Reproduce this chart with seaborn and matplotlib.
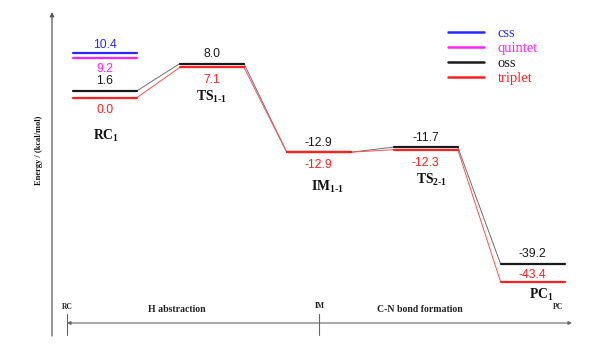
import matplotlib
matplotlib.use("Agg")
import matplotlib.pyplot as plt
import seaborn as sns
import pandas as pd
import numpy as np

# ---------------- data ----------------
states = ["RC", "TS1-1", "IM1-1", "TS2-1", "PC1"]
state_labels = ["RC$_1$", "TS$_{1\\text{-}1}$", "IM$_{1\\text{-}1}$", "TS$_{2\\text{-}1}$", "PC$_1$"]
oss = [1.6, 8.0, -12.9, -11.7, -39.2]
triplet = [0.0, 7.1, -12.9, -12.3, -43.4]
css_rc = [10.4]
quintet_rc = [9.2]
series_names = ["css", "quintet", "oss", "triplet"]
axis_ticks = ["RC", "IM", "PC"]
stage_names = ["H abstraction", "C-N bond formation"]
ylabel = "Energy / (kcal/mol)"

colors = {"css": "#2a2aff", "quintet": "#ff22ff", "oss": "#1a1a1a", "triplet": "#ff2020"}
conn_colors = {"oss": "#707070", "triplet": "#ff5050"}

sns.set_theme(style="white")
plt.rcParams["font.family"] = ["Liberation Serif", "DejaVu Serif"]
plt.rcParams["mathtext.default"] = "regular"

W, H = 603, 354
fig = plt.figure(figsize=(W / 100, H / 100), dpi=100)
ax = fig.add_axes([0, 0, 1, 1])
ax.set_axis_off()

# x: state index, center of state i at pixel 105 + 106.9*i
px0, pstep = 105.0, 106.9
ax.set_xlim(-px0 / pstep, (W - px0) / pstep)
# y: energy, 0 kcal at pixel 97.5, 4.24 px per kcal
ypx0, yscale = 97.5, 4.24
ax.set_ylim((ypx0 - H) / yscale, ypx0 / yscale)
hw = 0.3

# ---------- build level and connector tables ----------
rows = []
seg = 0
series_vals = {"oss": oss, "triplet": triplet, "css": css_rc, "quintet": quintet_rc}
for name in series_names:
    vals = series_vals[name]
    for i, e in enumerate(vals):
        rows.append(dict(x=i - hw, E=e, series=name, seg=seg))
        rows.append(dict(x=i + hw, E=e, series=name, seg=seg))
        seg += 1
levels = pd.DataFrame(rows)

crow = []
for name in ["oss", "triplet"]:
    vals = series_vals[name]
    for i in range(len(vals) - 1):
        crow.append(dict(x=i + hw, E=vals[i], series=name, seg=seg))
        crow.append(dict(x=i + 1 - hw, E=vals[i + 1], series=name, seg=seg))
        seg += 1
conns = pd.DataFrame(crow)

sns.lineplot(data=conns, x="x", y="E", hue="series", units="seg", estimator=None,
             sort=False, palette=conn_colors, linewidth=0.7, legend=False, ax=ax)
sns.lineplot(data=levels, x="x", y="E", hue="series", units="seg", estimator=None,
             sort=False, palette=colors, linewidth=1.6, legend=False, ax=ax)
ax.set_axis_off()

# ---------- value labels ----------
numfont = dict(family=["Liberation Sans", "DejaVu Sans"], fontsize=8.8)

def vlabel(i, e, color, above, gap=3):
    if above:
        ax.annotate(f"{e:.1f}", (i, e), xytext=(0, gap), textcoords="offset points",
                    ha="center", va="bottom", color=color, **numfont)
    else:
        ax.annotate(f"{e:.1f}", (i, e), xytext=(0, -gap - 2.5), textcoords="offset points",
                    ha="center", va="top", color=color, **numfont)

vlabel(0, css_rc[0], colors["css"], True, 1.5)
vlabel(0, quintet_rc[0], colors["quintet"], False, 0.8)
for i in range(len(states)):
    vlabel(i, oss[i], colors["oss"], True, 2.5)
    if i == len(states) - 1:
        vlabel(i, triplet[i], colors["triplet"], True, 0.5)
    else:
        vlabel(i, triplet[i], colors["triplet"], False, 2.5)

# ---------- state names ----------
name_dy = [-28, -21, -25, -22, -10]   # points below triplet level
name_dx = [1, 0, 6, 4, 6]
for i, lab in enumerate(state_labels):
    ax.annotate(lab, (i, triplet[i]), xytext=(name_dx[i], name_dy[i]), textcoords="offset points",
                ha="center", va="center", fontsize=9.8, fontweight="bold", color="#111111")

# ---------- axes decorations (figure-pixel placement) ----------
def fx(p):
    return p / W
def fy(p):
    return 1 - p / H

tr = ax.transAxes
# vertical energy axis
ax.annotate("", xy=(fx(52), fy(12)), xytext=(fx(52), fy(336)), xycoords=tr, textcoords=tr,
            arrowprops=dict(arrowstyle="-|>", color="#555555", lw=0.9, mutation_scale=6,
                            shrinkA=0, shrinkB=0))
ax.text(fx(39), fy(150), ylabel, transform=tr, rotation=90, ha="center", va="center",
        fontsize=6, fontweight="bold", color="#111111")

# reaction coordinate double arrow
ax.annotate("", xy=(fx(572), fy(323)), xytext=(fx(67), fy(323)), xycoords=tr, textcoords=tr,
            arrowprops=dict(arrowstyle="<|-|>", color="#666666", lw=0.8, mutation_scale=5,
                            shrinkA=0, shrinkB=0))
for xp in (67, 319):
    ax.plot([fx(xp), fx(xp)], [fy(314), fy(335)], transform=tr, color="#666666", lw=0.8)
tick_px = [(67, 307), (320, 306), (558, 307)]
for lab, (xp, yp) in zip(axis_ticks, tick_px):
    ax.text(fx(xp), fy(yp), lab, transform=tr, ha="center", va="center",
            fontsize=5.5, fontweight="bold", color="#222222")
for lab, xp in zip(stage_names, (177, 420)):
    ax.text(fx(xp), fy(310), lab, transform=tr, ha="center", va="center",
            fontsize=7, fontweight="bold", color="#222222")

# ---------- legend ----------
from matplotlib.lines import Line2D
handles = [Line2D([0], [0], color=colors[n], lw=1.8) for n in series_names]
leg = ax.legend(handles, series_names, loc="upper left", bbox_to_anchor=(fx(448), fy(27)),
                bbox_transform=tr, frameon=False, fontsize=10.5, handlelength=2.5,
                handletextpad=0.9, labelspacing=0.12, borderaxespad=0, borderpad=0)
for t, n in zip(leg.get_texts(), series_names):
    t.set_color(colors[n])

fig.savefig("out.png", dpi=100)
